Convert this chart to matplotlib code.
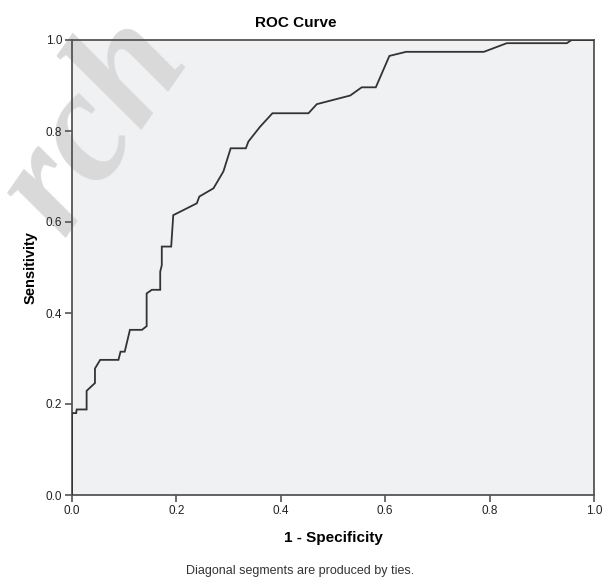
import matplotlib
matplotlib.use("Agg")
import matplotlib.pyplot as plt

plt.rcParams["font.family"] = ["Liberation Sans", "DejaVu Sans"]

# ROC curve points (1 - specificity, sensitivity)
fpr = [0.0, 0.0, 0.008, 0.009, 0.028, 0.028, 0.044, 0.044, 0.054, 0.089, 0.093,
       0.101, 0.111, 0.134, 0.143, 0.143, 0.153, 0.169, 0.169, 0.172, 0.172,
       0.190, 0.194, 0.239, 0.244, 0.271, 0.290, 0.304, 0.333, 0.338, 0.360,
       0.384, 0.453, 0.469, 0.533, 0.555, 0.582, 0.608, 0.640, 0.789, 0.833,
       0.948, 0.957, 1.0]
tpr = [0.0, 0.180, 0.180, 0.188, 0.188, 0.229, 0.246, 0.278, 0.297, 0.297, 0.315,
       0.315, 0.363, 0.363, 0.371, 0.443, 0.451, 0.451, 0.491, 0.505, 0.546,
       0.546, 0.615, 0.641, 0.656, 0.674, 0.711, 0.762, 0.762, 0.777, 0.809,
       0.839, 0.839, 0.859, 0.878, 0.896, 0.896, 0.965, 0.974, 0.974, 0.993,
       0.993, 1.0, 1.0]

ticks = [0.0, 0.2, 0.4, 0.6, 0.8, 1.0]
tick_labels = ["0.0", "0.2", "0.4", "0.6", "0.8", "1.0"]

fig = plt.figure(figsize=(6.03, 5.83), dpi=100)
ax = fig.add_axes([72 / 603, 1 - 495 / 583, 522 / 603, 455 / 583])
ax.set_facecolor("#f0f1f3")

ax.plot(fpr, tpr, color="#333333", lw=1.3, solid_joinstyle="miter", zorder=3)

ax.set_xlim(0, 1)
ax.set_ylim(0, 1)
ax.set_xticks(ticks)
ax.set_xticklabels(tick_labels)
ax.set_yticks(ticks)
ax.set_yticklabels(tick_labels)
ax.tick_params(direction="out", length=5, width=1.2, color="#555555",
               labelsize=8.5, labelcolor="#222222", pad=2)

for side in ["left", "bottom", "top", "right"]:
    ax.spines[side].set_color("#555555")
    ax.spines[side].set_linewidth(1.3)

ax.set_xlabel("1 - Specificity", fontsize=11, fontweight="bold", labelpad=10)
ax.set_ylabel("Sensitivity", fontsize=10.5, fontweight="bold", labelpad=6)

fig.text(296 / 603, 1 - 23 / 583, "ROC Curve", ha="center", va="center",
         fontsize=11, fontweight="bold")
fig.text(300 / 603, 1 - 571 / 583, "Diagonal segments are produced by ties.",
         ha="center", va="center", fontsize=9, color="#333333")

# watermark: sits over the plot background but under the frame and curve
ax.text(95 / 603, 1 - 125 / 583, "rch", transform=fig.transFigure,
        ha="center", va="center", fontsize=115, family="Liberation Serif",
        style="italic", fontweight="bold", rotation=55, color="#d9d9d9",
        zorder=1, clip_on=False)

fig.savefig("out.png", dpi=100)
